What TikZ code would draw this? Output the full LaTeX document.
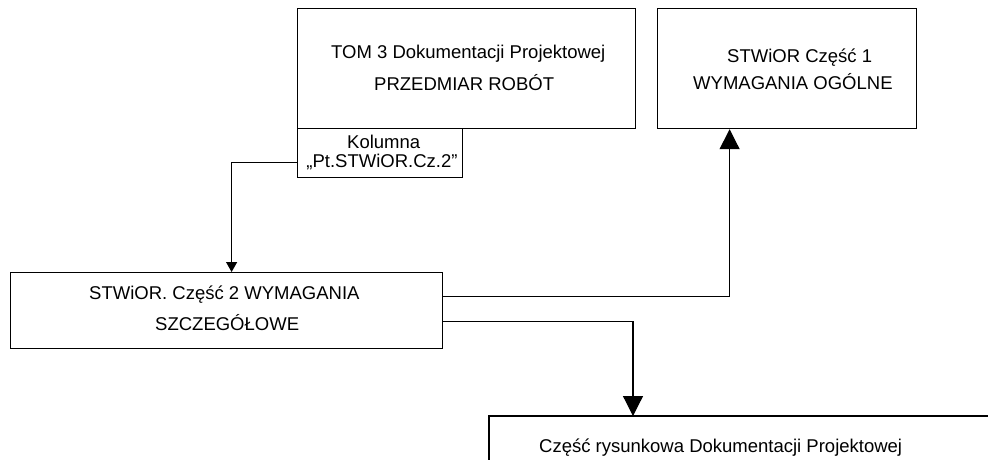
\documentclass[tikz,border=0pt]{standalone}
\usepackage{fontspec}
\setmainfont{Liberation Sans}
\usetikzlibrary{arrows.meta}
\tikzset{
  box/.style={draw=black, line width=1.2pt, inner sep=0pt, anchor=north west, fill=none},
  txt/.style={inner sep=0pt, anchor=base west, font=\fontsize{18.5}{22}\selectfont},
  conn/.style={line width=1.2pt, draw=black},
  bigtip/.style={-{Triangle[width=20pt,length=20pt]}},
  smalltip/.style={-{Triangle[width=11pt,length=10pt]}}
}
\begin{document}
\begin{tikzpicture}[x=1pt,y=-1pt]
\useasboundingbox (0,0) rectangle (988,459);
\fill[white] (0,0) rectangle (988,459);
\clip (0,0) rectangle (988,459);
% boxes
\node[box, minimum width=338pt, minimum height=120pt] (top) at (297,8) {};
\node[box, minimum width=165pt, minimum height=49pt] (kol) at (297,128) {};
\node[box, minimum width=259pt, minimum height=120pt] (right) at (657,8) {};
\node[box, minimum width=432pt, minimum height=76pt] (mid) at (10,272) {};
\coordinate (dtop) at (633,416);
\coordinate (dleft) at (489,470);
\coordinate (dright) at (1000,416);
\draw[conn] (dleft) |- (dright);
% texts
\node[txt] (t1a) at (331,58) {TOM 3 Dokumentacji Projektowej};
\node[txt] (t1b) at (374,90) {PRZEDMIAR ROBÓT};
\node[txt] (k1) at (347,148) {Kolumna};
\node[txt, anchor=base] (k2) at (382,167) {„Pt.STWiOR.Cz.2”};
\node[txt] (r1) at (727,62) {STWiOR Część 1};
\node[txt] (r2) at (693,89) {WYMAGANIA OGÓLNE};
\node[txt] (m1) at (89,299) {STWiOR. Część 2 WYMAGANIA};
\node[txt] (m2) at (155,330) {SZCZEGÓŁOWE};
\node[txt] (d1) at (539,452) {Część rysunkowa Dokumentacji Projektowej};
% connectors
\draw[conn, smalltip] ([yshift=-9.5pt]kol.west) -| ([xshift=5pt]mid.north);
\draw[conn, bigtip] ([yshift=14pt]mid.east) -| ([xshift=-57.5pt]right.south);
\draw[conn, bigtip] ([yshift=-11pt]mid.east) -| (dtop);
\end{tikzpicture}
\end{document}
